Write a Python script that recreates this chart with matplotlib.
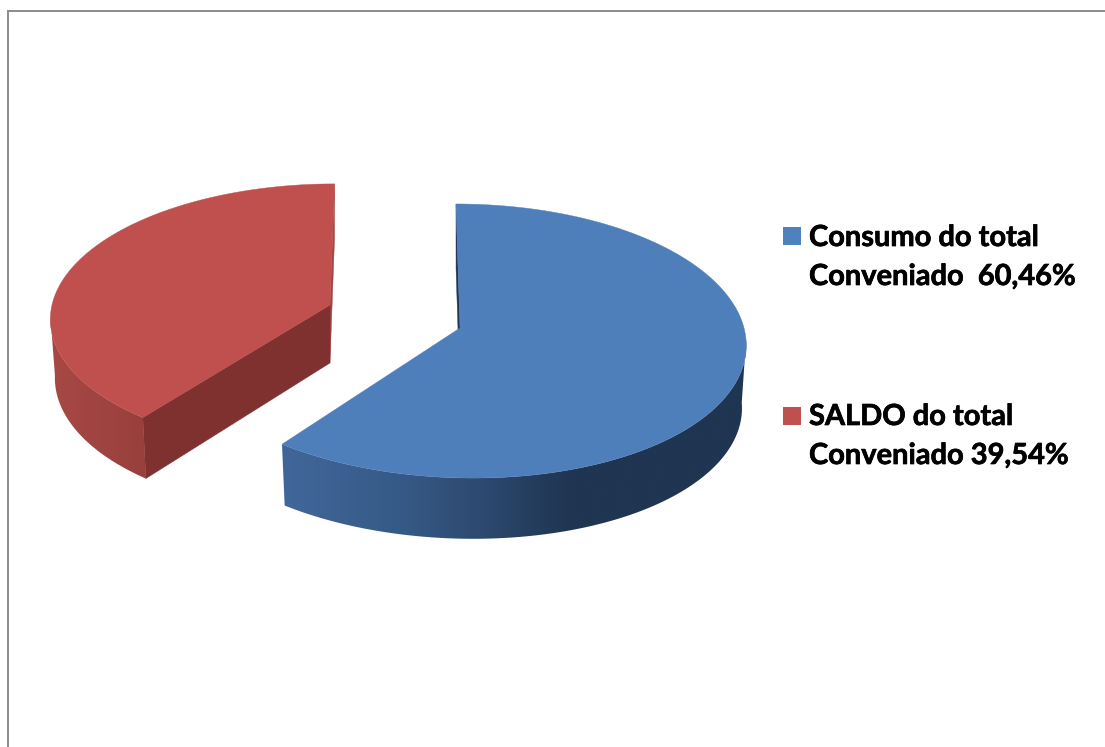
import numpy as np
import matplotlib
matplotlib.use('Agg')
import matplotlib.pyplot as plt
import matplotlib.patheffects as pe
from matplotlib.colors import to_rgb
from matplotlib.patches import Polygon, Rectangle

# share of each slice, percent
consumo = 60.46
saldo = 39.54
legend_lines = [['Consumo do total', 'Conveniado  60,46%'],
				['SALDO do total', 'Conveniado 39,54%']]

blue = '#4f81bd'
red = '#c0504d'

###################
#    Functions    #
###################
def rim(deg, g):
	# perspective projection of the disc rim, angle runs clockwise from north
	t = np.radians(deg)
	s, c = np.sin(t), -np.cos(t)
	w = 1 + g['k'] * c
	return g['cx'] + (g['rx'] * s + g['skew'] * c + g['q'] * c ** 2) / w, g['cy'] + g['ry'] * c / w

def lower(g, drop, sx, sy):
	# the underside of the slice: same disc, moved down and slightly scaled
	return dict(g, cy=g['cy'] + drop, rx=g['rx'] * sx, ry=g['ry'] * sy, skew=g['skew'] * sx, q=g['q'] * sx)

def draw_slice(ax, start, end, top, under, face_col, wall_range, wall_stops, cut_faces):
	deg = np.linspace(start, end, 361)
	xt, yt = rim(deg, top)
	# outer wall, only the part facing the viewer; shading runs along x
	wdeg = np.linspace(wall_range[0], wall_range[1], 241)
	xw, yw = rim(wdeg, top)
	xb, yb = rim(wdeg, under)
	wall = Polygon(np.vstack([np.column_stack([xw, yw]), np.column_stack([xb, yb])[::-1]]), fc='none', ec='none')
	ax.add_patch(wall)
	x0, x1 = min(xw.min(), xb.min()), max(xw.max(), xb.max())
	y0, y1 = min(yw.min(), yb.min()), max(yw.max(), yb.max())
	xs = np.linspace(x0, x1, 600)
	stops, cols = zip(*wall_stops)
	rgb = np.array([to_rgb(c) for c in cols])
	grad = np.stack([np.interp(xs, stops, rgb[:, i]) for i in range(3)], axis=-1)[None, :, :]
	im = ax.imshow(grad, extent=(x0, x1, y1, y0), aspect='auto', interpolation='bilinear', zorder=1)
	im.set_clip_path(wall)
	# flat cut faces, in back to front order
	z = 2
	for d, col in cut_faces:
		xa, ya = rim(d, top)
		xc, yc = rim(d, under)
		ax.add_patch(Polygon([(top['cx'], top['cy']), (xa, ya), (xc, yc), (under['cx'], under['cy'])],
							 fc=col, ec=col, lw=0.3, zorder=z))
		z += 1
	# top surface
	ax.add_patch(Polygon(np.vstack([[top['cx'], top['cy']], np.column_stack([xt, yt])]),
						 fc=face_col, ec=face_col, lw=0.3, zorder=z))

############
#   Main   #
############
fig = plt.figure(figsize=(11.05, 7.47), dpi=100)
ax = fig.add_axes([0, 0, 1, 1])
ax.axis('off')

# chart area border, only top and left are inside the frame
ax.plot([7.8, 7.8, 1105], [747, 11, 11], color='#8c8c8c', lw=1.4, solid_joinstyle='miter')

end_blue = 360 * consumo / (consumo + saldo)
end_red = end_blue + 360 * saldo / (consumo + saldo)

red_top = dict(cx=330, cy=305, rx=278, ry=132, k=-0.09, skew=-5, q=0)
red_under = lower(red_top, 58, 0.984, 1.027)
draw_slice(ax, end_blue, end_red, red_top, red_under, '#bf504d', (end_blue, 265),
		   [(50, '#a84845'), (100, '#a04441'), (145, '#98403c')],
		   [(end_red, '#a04542'), (end_blue, '#7f3130')])

blue_top = dict(cx=460, cy=328, rx=284, ry=135.8, k=-0.095, skew=8.2, q=3.8)
blue_under = lower(blue_top, 63, 0.985, 0.985)
draw_slice(ax, 0, end_blue, blue_top, blue_under, '#4e7fbb', (95, end_blue),
		   [(283, '#41679a'), (400, '#365a87'), (480, '#2d4a70'), (570, '#1f3552'), (745, '#1f3552')],
		   [(0, '#1f3552')])

# legend
box_y = [227, 407]
base_y = [[246, 285], [425, 464]]
for col, y, lines, bases in zip([blue, red], box_y, legend_lines, base_y):
	ax.add_patch(Rectangle((783, y), 18, 18, fc=col, ec='none'))
	for line, b in zip(lines, bases):
		ax.text(809, b, line, family='Lato', weight='bold', fontsize=20.9, color='black', ha='left', va='baseline',
				path_effects=[pe.withStroke(linewidth=0.5, foreground='black')])

ax.set_xlim(0, 1105)
ax.set_ylim(747, 0)
plt.savefig('out.png', dpi=100)
